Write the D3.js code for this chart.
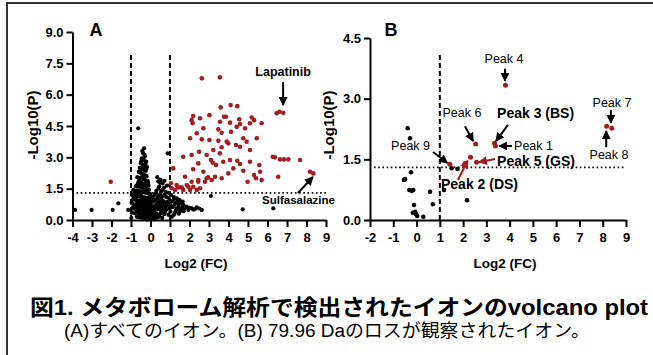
<!DOCTYPE html>
<html>
<head>
<meta charset="utf-8">
<script src="https://cdn.jsdelivr.net/npm/d3@7"></script>
<style>
  body { margin: 0; background: #fff; }
  svg { display: block; font-family: "Liberation Sans", Arial, "Noto Sans CJK JP", sans-serif; }
</style>
</head>
<body>
<svg id="chart" width="653" height="355"></svg>
<script>
// ---- data ----
// panel A: significant ions (red) as [log2FC, -log10P]
const sigA = [
  [2.63,6.78],[3.56,6.83],[3.60,5.39],[4.11,5.50],[4.45,5.45],[6.47,5.11],[6.61,5.18],[6.81,5.13],
  [2.19,4.98],[2.11,4.78],[2.16,4.63],[2.54,4.87],[3.02,5.02],[3.77,4.94],[3.87,4.94],[3.56,4.70],
  [4.08,4.66],[4.55,4.82],[4.59,4.59],[5.19,4.91],[5.10,4.63],[5.31,4.78],[5.70,4.63],[2.71,4.39],
  [2.37,4.15],[3.48,4.34],[3.65,4.18],[4.13,4.22],[4.42,4.46],[4.85,4.39],[2.03,3.91],[2.63,3.86],
  [3.02,3.83],[3.48,3.79],[3.91,3.75],[4.38,3.59],[4.76,3.91],[4.93,3.75],[5.45,3.91],[3.22,3.35],
  [3.65,3.48],[2.49,3.27],[1.68,3.03],[2.88,3.11],[3.56,3.19],[3.10,2.87],[3.19,2.74],[3.36,2.63],
  [3.73,2.79],[4.08,2.87],[4.45,2.84],[4.59,2.68],[5.10,2.79],[5.58,2.63],[2.45,2.71],[1.17,2.47],
  [2.19,2.43],[2.96,2.04],[3.31,2.07],[3.65,2.00],[3.99,2.23],[4.25,2.47],[4.76,2.36],[5.31,2.15],
  [5.41,2.00],[5.70,1.91],[6.27,3.03],[6.38,3.00],[6.64,2.90],[6.85,2.90],[7.07,2.90],[7.67,2.87],
  [6.55,2.07],[8.18,2.31],[8.35,2.23],[2.79,1.83],[4.98,1.83],[1.09,1.52],[1.34,1.67],[1.60,1.56],
  [1.86,1.67],[2.11,1.83],[2.37,1.44],[2.54,1.52],[2.19,1.59],[1.26,1.44],[1.68,1.44],[1.05,1.76],
  [2.03,1.44],[1.43,1.56],[1.94,1.59],[2.45,1.91],[2.88,2.00],[3.14,1.91],[2.11,3.11],[2.71,2.31],
  [5.62,2.31],[3.99,3.67],[4.59,3.51],[5.10,3.35],[1.77,2.07],[2.45,1.83],[-2.04,1.83]
];
// panel A: non-significant ions (black)
const nsA = [
  [-0.63,4.39],[-0.33,3.43],[-0.38,3.2],[-0.28,3.05],[-0.45,2.95],[-0.35,2.88],[-0.22,2.8],[-0.5,2.72],
  [-0.4,2.65],[-0.3,2.6],[-0.18,2.55],[-0.55,2.5],[-0.45,2.45],[-0.35,2.4],[-0.25,2.35],[-0.6,2.3],
  [-0.5,2.25],[-0.4,2.2],[-0.3,2.15],[-0.2,2.1],[-0.68,2.05],[-0.55,2.0],[-0.45,1.98],[-0.35,1.95],
  [-0.25,1.9],[-0.15,1.88],[-0.62,1.82],[-0.5,1.78],[-0.4,1.75],[-0.3,1.72],[-0.2,1.7],[-0.1,1.65],
  [-0.75,1.62],[-0.6,1.6],[-0.48,1.55],[-0.38,1.52],[-0.28,1.5],[-0.18,1.48],[-0.08,1.45],[-0.88,1.44],
  [-0.7,1.42],[-0.58,1.38],[-0.45,1.35],[-0.35,1.33],[-0.25,1.3],[-0.12,1.28],[-0.02,1.25],
  [-0.95,1.2],[-0.8,1.18],[-0.65,1.15],[-0.52,1.12],[-0.4,1.1],[-0.3,1.08],[-0.18,1.05],[-0.06,1.02],[0.05,1.0],
  [-0.9,0.98],[-0.75,0.95],[-0.62,0.92],[-0.5,0.9],[-0.38,0.88],[-0.25,0.85],[-0.12,0.82],[0.0,0.8],
  [-0.85,0.75],[-0.7,0.72],[-0.58,0.7],[-0.45,0.68],[-0.32,0.65],[-0.2,0.62],[-0.08,0.6],[0.05,0.58],
  [-0.92,0.55],[-0.78,0.52],[-0.65,0.5],[-0.52,0.48],[-0.4,0.45],[-0.28,0.42],[-0.15,0.4],[-0.02,0.38],[0.1,0.36],
  [-0.8,0.32],[-0.62,0.3],[-0.48,0.28],[-0.35,0.25],[-0.22,0.22],[-0.1,0.2],[0.02,0.18],[0.14,0.16],
  [-0.55,0.12],[-0.4,0.1],[-0.25,0.08],[-0.12,0.06],[0.0,0.04],[0.1,0.05],[0.22,0.07],[-0.7,0.15],[-0.95,0.35],[-0.98,0.1],
  [0.35,2.05],[0.52,1.92],[0.62,1.75],[0.45,1.6],[0.7,1.55],[0.85,1.65],[0.3,1.4],[0.55,1.38],[0.78,1.35],[0.92,1.3],[0.88,3.19],
  [0.2,1.2],[0.4,1.15],[0.6,1.12],[0.8,1.1],[0.95,1.05],
  [0.25,0.95],[0.45,0.92],[0.65,0.9],[0.85,0.88],[0.3,0.75],[0.5,0.72],[0.7,0.7],[0.9,0.68],
  [0.22,0.55],[0.4,0.52],[0.6,0.5],[0.8,0.48],[0.3,0.32],[0.5,0.3],[0.7,0.28],[0.92,0.25],[0.38,0.12],[0.6,0.1],
  [1.05,1.2],[1.2,1.1],[1.35,1.04],[1.5,0.95],[1.65,0.88],[1.1,0.9],[1.3,0.82],[1.45,0.75],[1.68,0.72],[1.85,0.64],
  [1.15,0.62],[1.35,0.55],[1.55,0.5],[1.25,0.35],[1.45,0.3],[1.94,0.48],[2.11,0.56],[2.37,0.61],[2.63,0.48],[2.2,0.5],
  [3.1,1.15],[4.73,0.51],[6.30,0.56],[1.1,0.15],
  [-3.87,0.48],[-3.02,0.48],[-1.94,0.48],[-1.65,0.80],[-1.14,0.48],
  [-0.42,3.3],[-0.31,3.12],[-0.47,2.82],[-0.26,2.7],[-0.37,2.52],[-0.52,2.38],[-0.21,2.44],[-0.43,2.08],
  [-0.33,2.02],[-0.58,1.9],[-0.12,1.78],[-0.66,1.72],[-0.53,1.66],[-0.42,1.62],[-0.24,1.62],[-0.33,1.41],
  [-0.17,1.38],[-0.79,1.31],[-0.63,1.27],[-0.5,1.22],[-0.05,1.15],[0.12,1.1],[-0.86,1.07],[-0.72,1.03],
  [-0.46,1.0],[-0.33,0.97],[-0.19,0.93],[-0.05,0.9],[0.15,0.88],[-0.97,0.82],[-0.67,0.82],[-0.55,0.79],
  [-0.42,0.77],[-0.28,0.74],[-0.14,0.71],[0.02,0.69],[0.18,0.66],[-0.88,0.64],[-0.73,0.61],[-0.6,0.59],
  [-0.47,0.57],[-0.34,0.54],[-0.21,0.51],[-0.08,0.49],[0.06,0.47],[0.2,0.45],[-0.7,0.4],[-0.57,0.38],
  [-0.44,0.36],[-0.31,0.33],[-0.17,0.31],[-0.04,0.28],[0.09,0.26],[0.27,0.24],[-0.5,0.2],[-0.37,0.17],
  [-0.24,0.15],[-0.06,0.12],[0.06,0.11],[0.18,0.1],[-0.16,0.02],[0.28,0.14],[0.44,0.2],[0.55,0.4],
  [0.75,0.38],[0.35,0.62],[0.55,0.6],[0.75,0.58],[0.98,0.55],[0.4,0.83],[0.6,0.8],[0.78,0.78],
  [0.97,0.8],[0.35,1.05],[0.55,1.02],[0.72,1.22],[0.5,1.25],[0.28,1.28],[0.4,1.5],[0.62,1.45],
  [0.48,1.78],[0.72,1.88],[0.4,1.85],[1.2,0.98],[1.4,0.9],[1.58,0.8],[1.22,0.72],[1.42,0.62],
  [1.62,0.6],[1.75,0.55],[1.3,0.45],[1.5,0.4],[1.7,0.42],[1.2,0.25],[2.0,0.58],[2.28,0.52],
  [2.5,0.55],[1.02,0.4],[1.02,0.7]
];
// panel B: ions with 79.96 Da loss
const sigB = [
  [1.43,1.38],[2.08,1.40],[2.32,1.55],[2.58,1.43],[2.54,1.88],[3.35,1.90],[3.39,1.83],[3.82,3.33],
  [8.17,2.32],[8.39,2.27]
];
const nsB = [
  [-0.38,2.27],[-0.28,2.02],[-0.24,1.18],[-0.49,1.01],[-0.54,0.99],[-0.31,0.74],[-0.21,0.72],[-0.14,0.74],
  [-0.11,0.37],[-0.06,0.20],[-0.16,0.18],[-0.02,0.14],[0.03,0.10],[0.29,0.08],[0.58,0.70],[0.70,0.39],
  [1.18,0.74],[1.76,1.26],[2.17,0.49],[1.51,1.28]
];
const yTicksA = [0, 1.5, 3, 4.5, 6, 7.5, 9];
const xTicksA = [-4, -3, -2, -1, 0, 1, 2, 3, 4, 5, 6, 7, 8, 9];
const yTicksB = [0, 1.5, 3, 4.5];
const xTicksB = [-2, -1, 0, 1, 2, 3, 4, 5, 6, 7, 8, 9];
const fcCut = [-1, 1];
const pCut = 1.3;

const RED = '#a11d22';
const svg = d3.select('#chart');

svg.append('rect').attr('width', 653).attr('height', 355).attr('fill', '#fff');
// frame (only top and left edges show)
svg.append('path').attr('d', 'M7,356 L7,3 L654,3').attr('fill', 'none')
  .attr('stroke', '#333').attr('stroke-width', 2);

const defs = svg.append('defs');
function marker(id, color) {
  defs.append('marker').attr('id', id)
    .attr('viewBox', '0 0 10 10').attr('refX', 9).attr('refY', 5)
    .attr('markerUnits', 'userSpaceOnUse').attr('markerWidth', 9).attr('markerHeight', 9)
    .attr('orient', 'auto')
    .append('path').attr('d', 'M0,0 L10,5 L0,10 z').attr('fill', color);
}
marker('ab', '#000');
marker('ar', RED);

function drawPanel(cfg) {
  const x = d3.scaleLinear().domain(cfg.xDomain).range(cfg.xRange);
  const y = d3.scaleLinear().domain(cfg.yDomain).range([220, cfg.yTop]);
  const g = svg.append('g');

  // threshold lines
  cfg.vlines.forEach(v => {
    g.append('line').attr('x1', x(v)).attr('x2', x(v))
      .attr('y1', y.range()[0]).attr('y2', 55)
      .attr('stroke', '#000').attr('stroke-width', 2).attr('stroke-dasharray', '5,3');
  });
  g.append('line').attr('x1', x(cfg.xDomain[0]) + 4).attr('x2', x(cfg.xDomain[1]))
    .attr('y1', y(pCut)).attr('y2', y(pCut))
    .attr('stroke', '#000').attr('stroke-width', 1.6).attr('stroke-dasharray', '1.6,2.6');

  // points
  g.selectAll('.ns').data(cfg.ns).enter().append('circle')
    .attr('cx', d => x(d[0])).attr('cy', d => y(d[1])).attr('r', cfg.r).attr('fill', '#000');
  g.selectAll('.sig').data(cfg.sig).enter().append('circle')
    .attr('cx', d => x(d[0])).attr('cy', d => y(d[1])).attr('r', cfg.r + 0.2).attr('fill', RED);

  // axes
  const xAxis = d3.axisBottom(x).tickValues(cfg.xTicks).tickFormat(d => String(d))
    .tickSize(7).tickSizeOuter(0).tickPadding(6);
  const yAxis = d3.axisLeft(y).tickValues(cfg.yTicks).tickFormat(d => d.toFixed(1))
    .tickSize(6).tickSizeOuter(0).tickPadding(3);
  const gx = g.append('g').attr('transform', 'translate(0,220)').call(xAxis);
  const gy = g.append('g').attr('transform', `translate(${cfg.xRange[0]},0)`).call(yAxis);
  [gx, gy].forEach(a => {
    a.select('.domain').attr('stroke', '#000').attr('stroke-width', 2);
    a.selectAll('.tick line').attr('stroke', '#000').attr('stroke-width', 2);
    a.selectAll('.tick text').attr('fill', '#000').style('font-size', '13px')
      .style('font-weight', 'bold').style('font-family', '"Liberation Sans", Arial, sans-serif');
  });

  // titles
  g.append('text').attr('x', cfg.letterX).attr('y', 30).attr('dy', '0.35em')
    .attr('text-anchor', 'middle').style('font-size', '18px').style('font-weight', 'bold')
    .text(cfg.letter);
  g.append('text').attr('transform', `translate(${cfg.yTitleX},125) rotate(-90)`)
    .attr('text-anchor', 'middle').attr('dy', '0.35em')
    .style('font-size', '15px').style('font-weight', 'bold').text('-Log10(P)');
  g.append('text').attr('x', cfg.xTitleX).attr('y', 263).attr('dy', '0.35em')
    .attr('text-anchor', 'middle').style('font-size', '13.5px').style('font-weight', 'bold')
    .text('Log2 (FC)');

  // annotations
  cfg.notes.forEach(n => {
    if (n.from) {
      g.append('line').attr('x1', x(n.from[0])).attr('y1', y(n.from[1]))
        .attr('x2', x(n.to[0])).attr('y2', y(n.to[1]))
        .attr('stroke', n.red ? RED : '#000').attr('stroke-width', 2)
        .attr('marker-end', n.red ? 'url(#ar)' : 'url(#ab)');
    }
    g.append('text').attr('x', x(n.at[0])).attr('y', y(n.at[1])).attr('dy', '0.35em')
      .attr('text-anchor', n.anchor).style('font-size', n.size + 'px')
      .style('font-weight', n.bold ? 'bold' : 'normal').text(n.text);
  });
}

drawPanel({
  xDomain: [-4, 9], xRange: [72.5, 326], yDomain: [0, 9], yTop: 32,
  xTicks: xTicksA, yTicks: yTicksA, vlines: fcCut, ns: nsA, sig: sigA, r: 2.1,
  letter: 'A', letterX: 96, yTitleX: 33, xTitleX: 196,
  notes: [
    { text: 'Lapatinib', bold: true, size: 12.5, anchor: 'middle', at: [6.8, 7.08], from: [6.8, 6.6], to: [6.8, 5.5] },
    { text: 'Sulfasalazine', bold: true, size: 11.5, anchor: 'start', at: [5.72, 0.96], from: [7.56, 1.29], to: [8.33, 2.06] }
  ]
});

drawPanel({
  xDomain: [-2, 9], xRange: [370, 626], yDomain: [0, 4.5], yTop: 38,
  xTicks: xTicksB, yTicks: yTicksB, vlines: [1], ns: nsB, sig: sigB, r: 2.3,
  letter: 'B', letterX: 391, yTitleX: 329, xTitleX: 505,
  notes: [
    { text: 'Peak 4', size: 12.5, anchor: 'middle', at: [3.76, 3.98], from: [3.8, 3.74], to: [3.8, 3.44] },
    { text: 'Peak 6', size: 12.5, anchor: 'middle', at: [1.95, 2.65], from: [2.08, 2.32], to: [2.43, 1.95] },
    { text: 'Peak 3 (BS)', bold: true, size: 14, anchor: 'start', at: [3.46, 2.65], from: [3.93, 2.35], to: [3.41, 1.95] },
    { text: 'Peak 1', size: 12.5, anchor: 'start', at: [4.19, 1.83], from: [4.10, 1.83], to: [3.55, 1.83] },
    { text: 'Peak 5 (GS)', bold: true, size: 14, anchor: 'start', at: [3.46, 1.46], from: [3.37, 1.51], to: [2.68, 1.43], red: true },
    { text: 'Peak 9', size: 12.5, anchor: 'end', at: [0.58, 1.83], from: [0.71, 1.68], to: [1.33, 1.41] },
    { text: 'Peak 2 (DS)', bold: true, size: 14, anchor: 'start', at: [1.05, 0.89], from: [1.78, 0.99], to: [2.2, 1.47], red: true },
    { text: 'Peak 7', size: 12.5, anchor: 'middle', at: [8.4, 2.89], from: [8.35, 2.72], to: [8.35, 2.40] },
    { text: 'Peak 8', size: 12.5, anchor: 'middle', at: [8.27, 1.61], from: [8.15, 1.80], to: [8.15, 2.20] }
  ]
});

// caption
svg.append('text').attr('x', 30).attr('y', 315)
  .attr('textLength', 618).attr('lengthAdjust', 'spacingAndGlyphs')
  .style('font-size', '22px').style('font-weight', 'bold')
  .text('図1. メタボローム解析で検出されたイオンのvolcano plot');
svg.append('text').attr('x', 64).attr('y', 337)
  .attr('textLength', 526).attr('lengthAdjust', 'spacingAndGlyphs')
  .style('font-size', '18px')
  .text('(A)すべてのイオン。(B) 79.96 Daのロスが観察されたイオン。');
</script>
</body>
</html>
